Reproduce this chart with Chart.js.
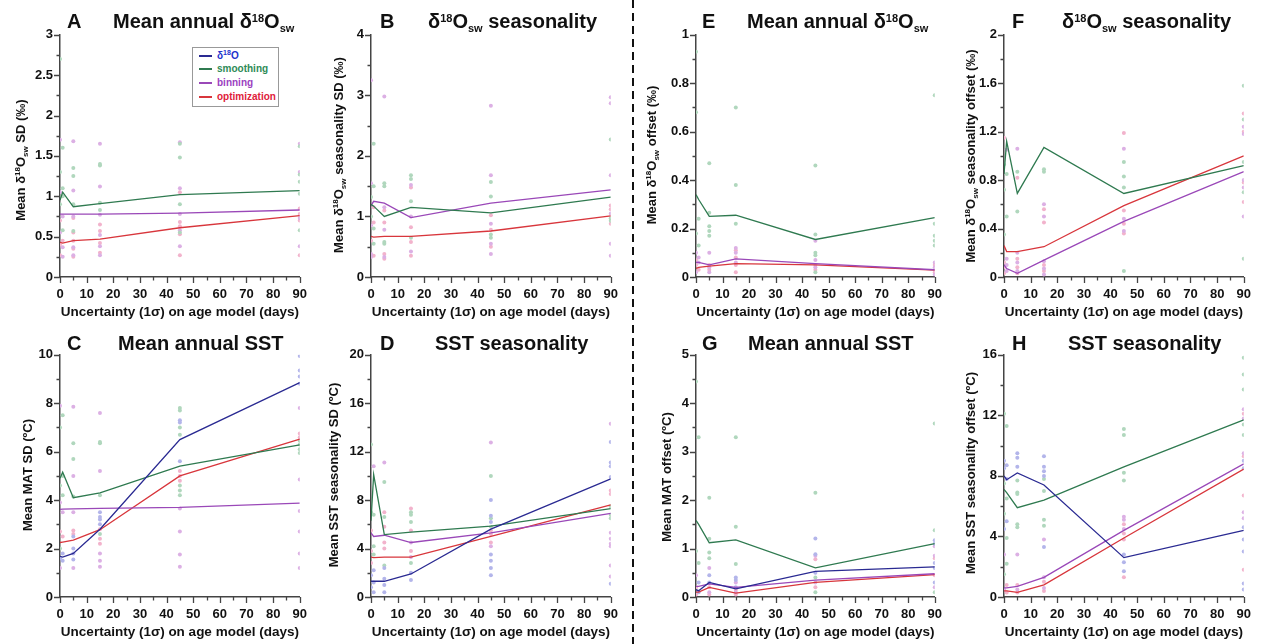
<!DOCTYPE html>
<html><head><meta charset="utf-8">
<script src="https://cdn.jsdelivr.net/npm/chart.js@4.4.1/dist/chart.umd.min.js"></script>
<style>
body{margin:0;width:1262px;height:644px;background:#fff;position:relative;overflow:hidden;font-family:'Liberation Sans',Arial,sans-serif;}
canvas{position:absolute;}
.ttl{position:absolute;font-weight:bold;font-size:20px;line-height:20px;white-space:nowrap;color:#111;}
.ttl sup{font-size:11px;line-height:0;vertical-align:6px;}
.ttl sub{font-size:11px;line-height:0;vertical-align:-4px;}
.yt{position:absolute;font-weight:bold;font-size:13px;line-height:14px;white-space:nowrap;transform:translate(-50%,-50%) rotate(-90deg);color:#111;}
.yt sup{font-size:8px;line-height:0;vertical-align:5px;}
.yt sub{font-size:8px;line-height:0;vertical-align:-3px;}
#sep{position:absolute;left:632px;top:0;width:2px;height:644px;background:repeating-linear-gradient(to bottom,#111 0 8px,transparent 8px 13px);}
#legend{position:absolute;left:192px;top:47px;width:85px;height:58px;border:1px solid #999;background:#fff;}
#legend .row{position:absolute;left:0;height:12px;font-size:10px;font-weight:bold;line-height:12px;white-space:nowrap;}
#legend .sw{position:absolute;left:6px;top:5px;width:13px;height:1.5px;}
#legend .tx{position:absolute;left:24px;top:0;}
#legend sup{font-size:7px;line-height:0;vertical-align:4px;}
</style>
</head><body>
<div id="sep"></div>
<script>
// ---------------- data ----------------
const xValues = [0, 1, 5, 15, 45, 90];
const methods = ['δ18O', 'smoothing', 'binning', 'optimization'];

// line series (means) per panel, at xValues
const lineA_smooth = [0.95, 1.05, 0.87, 0.91, 1.02, 1.07];
const lineA_bin    = [0.78, 0.78, 0.78, 0.78, 0.79, 0.83];
const lineA_opt    = [0.43, 0.42, 0.45, 0.47, 0.61, 0.76];

const lineB_smooth = [1.20, 1.17, 1.00, 1.15, 1.06, 1.32];
const lineB_bin    = [1.18, 1.25, 1.22, 0.98, 1.22, 1.44];
const lineB_opt    = [0.67, 0.66, 0.67, 0.67, 0.76, 1.01];

const lineE_smooth = [0.34, 0.32, 0.25, 0.255, 0.155, 0.245];
const lineE_bin    = [0.06, 0.06, 0.05, 0.075, 0.055, 0.03];
const lineE_opt    = [0.035, 0.04, 0.045, 0.055, 0.05, 0.028];

const lineF_smooth = [0.85, 1.12, 0.69, 1.07, 0.69, 0.92];
const lineF_bin    = [0.10, 0.07, 0.03, 0.14, 0.46, 0.87];
const lineF_opt    = [0.26, 0.21, 0.21, 0.25, 0.59, 1.00];

const lineC_d18O   = [1.68, 1.65, 1.80, 2.80, 6.50, 8.85];
const lineC_smooth = [4.90, 5.15, 4.10, 4.30, 5.40, 6.28];
const lineC_bin    = [3.62, 3.63, 3.64, 3.66, 3.70, 3.88];
const lineC_opt    = [2.25, 2.27, 2.35, 2.78, 5.00, 6.52];

const lineD_d18O   = [1.3, 1.3, 1.3, 1.9, 5.6, 9.75];
const lineD_smooth = [6.3, 10.1, 5.15, 5.35, 5.85, 7.3];
const lineD_bin    = [5.3, 5.0, 5.1, 4.5, 5.3, 6.9];
const lineD_opt    = [3.3, 3.25, 3.3, 3.3, 5.0, 7.6];

const lineG_d18O   = [0.15, 0.13, 0.30, 0.17, 0.53, 0.62];
const lineG_smooth = [1.58, 1.50, 1.12, 1.18, 0.60, 1.10];
const lineG_bin    = [0.22, 0.22, 0.27, 0.20, 0.35, 0.48];
const lineG_opt    = [0.10, 0.10, 0.20, 0.08, 0.30, 0.46];

const lineH_d18O   = [8.0, 7.75, 8.2, 7.4, 2.6, 4.4];
const lineH_smooth = [7.1, 6.9, 5.9, 6.4, 8.6, 11.7];
const lineH_bin    = [0.6, 0.6, 0.7, 1.3, 4.4, 8.8];
const lineH_opt    = [0.4, 0.4, 0.3, 0.8, 3.9, 8.45];

// individual records: [x, y, methodIndex]
const dotsA = [
 [0,2.7,1],[0,1.7,2],[1,1.6,1],[0,1.3,1],[1,1.1,1],[0,1.05,2],[1,1.0,1],[0,0.9,1],[1,0.75,2],[0,0.7,3],[1,0.58,1],[0,0.55,2],[1,0.45,3],[0,0.4,3],[1,0.37,2],[0,0.27,3],[1,0.25,2],
 [5,1.68,2],[5,1.35,1],[5,1.25,1],[5,1.07,2],[5,0.9,1],[5,0.75,2],[5,0.73,3],[5,0.57,1],[5,0.55,3],[5,0.45,3],[5,0.37,2],[5,0.35,3],[5,0.27,2],[5,0.25,3],
 [15,1.65,2],[15,1.4,1],[15,1.38,1],[15,1.12,2],[15,0.92,1],[15,0.83,1],[15,0.77,2],[15,0.65,3],[15,0.57,3],[15,0.52,2],[15,0.42,3],[15,0.38,2],[15,0.3,3],[15,0.27,2],
 [45,1.67,2],[45,1.65,1],[45,1.48,1],[45,1.1,2],[45,1.05,3],[45,0.9,1],[45,0.78,2],[45,0.68,3],[45,0.63,3],[45,0.58,2],[45,0.55,1],[45,0.53,3],[45,0.38,2],[45,0.27,3],
 [90,1.65,2],[90,1.62,1],[90,1.3,2],[90,1.27,1],[90,1.18,1],[90,1.03,1],[90,0.85,3],[90,0.78,3],[90,0.73,2],[90,0.7,3],[90,0.58,1],[90,0.38,2],[90,0.27,3]
];
const dotsB = [
 [0,3.25,2],[1,2.2,1],[0,1.55,2],[1,1.5,1],[0,1.32,1],[1,1.15,3],[0,1.0,1],[1,0.9,3],[0,0.85,2],[1,0.8,1],[0,0.6,3],[1,0.55,1],[0,0.38,2],[1,0.35,3],[0,0.33,2],
 [5,2.98,2],[5,1.55,1],[5,1.5,1],[5,1.15,2],[5,1.1,3],[5,0.9,3],[5,0.78,2],[5,0.58,1],[5,0.55,1],[5,0.38,3],[5,0.33,2],[5,0.3,3],
 [15,1.68,1],[15,1.62,1],[15,1.52,2],[15,1.48,3],[15,1.25,1],[15,1.0,2],[15,0.82,3],[15,0.65,1],[15,0.58,3],[15,0.42,2],[15,0.35,3],
 [45,2.83,2],[45,1.68,2],[45,1.57,1],[45,1.33,1],[45,1.02,3],[45,0.88,2],[45,0.78,3],[45,0.7,1],[45,0.65,1],[45,0.55,2],[45,0.5,3],[45,0.38,2],
 [90,2.97,2],[90,2.87,2],[90,2.27,1],[90,1.68,2],[90,1.18,3],[90,1.12,3],[90,1.05,2],[90,0.97,1],[90,0.93,1],[90,0.88,3],[90,0.55,2],[90,0.35,2]
];
const dotsE = [
 [0,0.93,1],[0,0.68,1],[1,0.24,1],[0,0.18,1],[1,0.13,1],[0,0.1,2],[1,0.08,2],[0,0.07,3],[1,0.06,2],[0,0.05,3],[1,0.03,3],[0,0.02,2],
 [5,0.47,1],[5,0.265,1],[5,0.21,1],[5,0.19,1],[5,0.17,1],[5,0.1,2],[5,0.05,3],[5,0.04,2],[5,0.03,3],[5,0.02,2],
 [15,0.7,1],[15,0.38,1],[15,0.22,1],[15,0.12,2],[15,0.11,3],[15,0.1,2],[15,0.08,3],[15,0.06,2],[15,0.05,3],[15,0.02,3],
 [45,0.46,1],[45,0.175,1],[45,0.15,2],[45,0.1,1],[45,0.09,1],[45,0.07,2],[45,0.05,3],[45,0.04,2],[45,0.03,3],[45,0.02,1],
 [90,0.75,1],[90,0.22,1],[90,0.17,1],[90,0.15,1],[90,0.13,1],[90,0.06,2],[90,0.05,3],[90,0.04,2],[90,0.02,3],[90,0.01,2]
];
const dotsF = [
 [0,1.15,3],[1,1.05,2],[0,0.93,1],[1,0.85,1],[0,0.72,1],[1,0.5,1],[0,0.35,1],[1,0.15,2],[0,0.12,3],[1,0.1,2],[0,0.08,3],[1,0.05,2],[0,0.03,3],
 [5,1.06,2],[5,0.87,1],[5,0.82,3],[5,0.54,1],[5,0.2,2],[5,0.15,3],[5,0.12,2],[5,0.08,3],[5,0.05,2],[5,0.03,3],
 [15,0.89,1],[15,0.87,1],[15,0.6,2],[15,0.56,3],[15,0.5,2],[15,0.45,3],[15,0.13,2],[15,0.1,3],[15,0.07,2],[15,0.05,3],[15,0.02,2],
 [45,1.19,3],[45,1.06,2],[45,0.95,1],[45,0.83,1],[45,0.74,1],[45,0.55,3],[45,0.48,2],[45,0.44,3],[45,0.38,2],[45,0.36,3],[45,0.05,1],
 [90,1.58,1],[90,1.35,3],[90,1.3,1],[90,1.24,2],[90,1.2,3],[90,1.18,2],[90,0.95,1],[90,0.8,2],[90,0.78,3],[90,0.74,2],[90,0.7,1],[90,0.62,3],[90,0.5,2],[90,0.15,1]
];
const dotsC = [
 [0,7.9,2],[1,7.5,1],[0,7.0,1],[1,5.0,1],[0,4.6,1],[1,4.2,1],[0,3.9,2],[1,3.5,2],[0,2.7,3],[1,2.5,3],[0,2.0,1],[1,1.8,0],[0,1.6,0],[1,1.5,0],[0,1.2,2],
 [5,7.85,2],[5,6.35,1],[5,5.7,1],[5,5.0,2],[5,4.15,1],[5,3.5,2],[5,2.75,3],[5,2.6,3],[5,2.5,0],[5,2.0,0],[5,1.8,0],[5,1.55,0],[5,1.2,2],
 [15,7.6,2],[15,6.4,1],[15,6.35,1],[15,5.2,2],[15,4.2,1],[15,3.5,0],[15,3.3,0],[15,3.2,0],[15,3.0,0],[15,2.8,3],[15,2.6,1],[15,2.4,3],[15,2.2,3],[15,1.8,2],[15,1.5,2],[15,1.25,2],
 [45,7.8,1],[45,7.7,1],[45,7.3,0],[45,7.2,0],[45,7.0,1],[45,6.7,1],[45,5.6,0],[45,5.2,3],[45,5.0,3],[45,4.8,3],[45,4.6,1],[45,4.4,1],[45,4.2,1],[45,3.65,2],[45,2.7,2],[45,1.75,2],[45,1.25,2],
 [90,9.95,0],[90,9.35,0],[90,9.1,0],[90,8.8,0],[90,7.8,2],[90,6.75,3],[90,6.6,3],[90,6.45,1],[90,6.3,1],[90,6.1,1],[90,5.95,1],[90,4.85,2],[90,3.55,2],[90,2.7,2],[90,1.8,2],[90,1.2,2]
];
const dotsD = [
 [0,12.6,1],[1,10.8,2],[0,7.0,1],[1,6.8,1],[0,5.5,3],[1,4.2,1],[0,3.8,3],[1,3.5,1],[0,2.8,3],[1,2.2,0],[0,1.8,0],[1,1.2,0],[0,0.8,0],[1,0.4,0],
 [5,11.1,2],[5,9.5,1],[5,7.0,3],[5,6.6,1],[5,5.8,3],[5,4.5,3],[5,4.0,3],[5,2.6,1],[5,2.4,0],[5,1.5,0],[5,1.0,0],[5,0.4,0],
 [15,7.3,3],[15,7.0,1],[15,6.8,1],[15,6.2,1],[15,5.5,3],[15,4.5,2],[15,3.8,3],[15,3.3,2],[15,2.8,1],[15,2.0,0],[15,1.4,0],
 [45,12.75,2],[45,10.0,1],[45,8.0,0],[45,6.7,0],[45,6.5,1],[45,6.2,0],[45,5.8,1],[45,5.5,3],[45,5.2,3],[45,4.5,3],[45,4.2,2],[45,3.5,0],[45,3.0,0],[45,2.4,0],[45,1.8,0],
 [90,14.3,2],[90,12.8,0],[90,11.1,0],[90,10.8,0],[90,9.9,0],[90,8.8,3],[90,8.5,3],[90,7.5,1],[90,6.8,1],[90,6.5,1],[90,5.3,2],[90,4.8,2],[90,4.4,2],[90,4.2,2],[90,2.6,2],[90,1.7,2],[90,1.1,0]
];
const dotsG = [
 [0,4.45,1],[1,3.3,1],[0,0.95,1],[1,0.7,1],[0,0.45,2],[1,0.3,0],[0,0.2,3],[1,0.1,0],[0,0.05,3],
 [5,2.05,1],[5,1.2,1],[5,0.92,1],[5,0.8,1],[5,0.6,2],[5,0.45,0],[5,0.3,0],[5,0.2,3],[5,0.1,2],[5,0.05,3],
 [15,3.3,1],[15,1.45,1],[15,0.68,1],[15,0.4,0],[15,0.35,0],[15,0.3,2],[15,0.2,0],[15,0.15,3],[15,0.1,2],[15,0.05,3],
 [45,2.15,1],[45,1.21,0],[45,0.88,0],[45,0.85,2],[45,0.78,3],[45,0.5,0],[45,0.4,1],[45,0.3,2],[45,0.2,3],[45,0.1,1],
 [90,3.58,1],[90,1.38,1],[90,1.17,0],[90,1.1,0],[90,1.05,2],[90,0.85,2],[90,0.8,3],[90,0.7,0],[90,0.6,0],[90,0.45,3],[90,0.3,0],[90,0.2,2],[90,0.1,1]
];
const dotsH = [
 [0,12.1,1],[1,11.3,1],[0,9.0,0],[1,8.7,0],[0,8.5,0],[1,7.8,0],[0,7.5,1],[1,6.5,1],[0,5.5,1],[1,5.0,0],[0,4.5,0],[1,3.9,1],[0,2.8,2],[1,2.2,1],[0,1.5,1],[1,0.8,3],[0,0.5,2],[1,0.3,3],
 [5,9.5,0],[5,9.2,0],[5,8.6,0],[5,7.7,1],[5,6.9,1],[5,6.8,1],[5,4.8,1],[5,4.6,1],[5,2.8,2],[5,0.8,3],[5,0.5,2],[5,0.3,3],
 [15,9.3,0],[15,8.6,0],[15,8.3,0],[15,8.0,0],[15,7.8,1],[15,7.0,1],[15,5.1,1],[15,4.7,1],[15,3.8,2],[15,3.3,0],[15,1.3,2],[15,1.0,3],[15,0.6,2],[15,0.4,3],
 [45,11.1,1],[45,10.7,1],[45,8.2,1],[45,7.7,1],[45,5.3,2],[45,5.1,2],[45,4.8,3],[45,4.5,2],[45,4.2,3],[45,3.8,3],[45,2.8,0],[45,2.3,0],[45,1.7,0],[45,1.3,3],
 [90,15.8,1],[90,14.7,1],[90,13.7,1],[90,12.4,2],[90,12.1,3],[90,11.8,2],[90,11.4,1],[90,10.7,1],[90,9.5,2],[90,9.3,3],[90,9.0,0],[90,8.5,0],[90,6.7,3],[90,5.6,2],[90,5.2,2],[90,4.6,0],[90,3.8,0],[90,3.0,0],[90,1.8,3],[90,0.9,0],[90,0.5,0]
];

// ---------------- styles ----------------
const lineColors = ['#2a2a92', '#2f7a50', '#9a48b8', '#d8363c'];
const dotColors  = ['#b3b5ea', '#b0d7bd', '#dcb0e4', '#f2b3cc'];
const AXIS = '#444';
const FONT = "'Liberation Sans', Arial, sans-serif";

const panels = [
  {pl:60,  pr:305,  pt:32,  pb:277, ymax:3, major:0.5, minor:0.25, dots:dotsA, lines:[[1,lineA_smooth],[2,lineA_bin],[3,lineA_opt]]},
  {pl:371, pr:616,  pt:32,  pb:277, ymax:4, major:1,   minor:0.5,  dots:dotsB, lines:[[1,lineB_smooth],[2,lineB_bin],[3,lineB_opt]]},
  {pl:696, pr:940,  pt:32,  pb:277, ymax:1, major:0.2, minor:0.1,  dots:dotsE, lines:[[1,lineE_smooth],[2,lineE_bin],[3,lineE_opt]]},
  {pl:1004,pr:1249, pt:32,  pb:277, ymax:2, major:0.4, minor:0.2,  dots:dotsF, lines:[[1,lineF_smooth],[2,lineF_bin],[3,lineF_opt]]},
  {pl:60,  pr:305,  pt:352, pb:597, ymax:10,major:2,   minor:1,    dots:dotsC, lines:[[0,lineC_d18O],[1,lineC_smooth],[2,lineC_bin],[3,lineC_opt]]},
  {pl:371, pr:616,  pt:352, pb:597, ymax:20,major:4,   minor:2,    dots:dotsD, lines:[[0,lineD_d18O],[1,lineD_smooth],[2,lineD_bin],[3,lineD_opt]]},
  {pl:696, pr:940,  pt:352, pb:597, ymax:5, major:1,   minor:0.5,  dots:dotsG, lines:[[0,lineG_d18O],[1,lineG_smooth],[2,lineG_bin],[3,lineG_opt]]},
  {pl:1004,pr:1249, pt:352, pb:597, ymax:16,major:4,   minor:2,    dots:dotsH, lines:[[0,lineH_d18O],[1,lineH_smooth],[2,lineH_bin],[3,lineH_opt]]}
];

const isMajor = (v, m) => Math.abs(v / m - Math.round(v / m)) < 1e-6;
const fmt = v => String(+v.toFixed(2));

const tickMarks = {
  id: 'tickMarks',
  afterDraw(chart, args, opts) {
    const ctx = chart.ctx, xs = chart.scales.x, ys = chart.scales.y;
    ctx.save();
    ctx.strokeStyle = AXIS; ctx.lineWidth = 1.3;
    ctx.beginPath();
    xs.ticks.forEach(t => {
      const p = Math.round(xs.getPixelForValue(t.value)) + 0.5;
      const L = isMajor(t.value, 10) ? 6 : 3.5;
      ctx.moveTo(p, xs.top); ctx.lineTo(p, xs.top + L);
    });
    ys.ticks.forEach(t => {
      const p = Math.round(ys.getPixelForValue(t.value)) + 0.5;
      const L = isMajor(t.value, opts.major) ? 6 : 3.5;
      ctx.moveTo(ys.right, p); ctx.lineTo(ys.right - L, p);
    });
    ctx.stroke();
    ctx.restore();
  }
};

Chart.defaults.font.family = FONT;
Chart.defaults.font.weight = 'bold';
Chart.defaults.font.size = 13;
Chart.defaults.color = '#111';

panels.forEach(p => {
  const c = document.createElement('canvas');
  const W = p.pr - p.pl + 67, H = p.pb - p.pt + 57;
  c.width = W; c.height = H;
  c.style.left = (p.pl - 55) + 'px'; c.style.top = (p.pt - 12) + 'px';
  c.style.width = W + 'px'; c.style.height = H + 'px';
  document.body.appendChild(c);

  const datasets = [];
  p.lines.forEach(([m, arr]) => {
    datasets.push({
      label: methods[m], showLine: true, borderColor: lineColors[m], backgroundColor: lineColors[m],
      borderWidth: 1.3, pointRadius: 0, tension: 0,
      data: xValues.map((x, i) => ({x, y: arr[i]}))
    });
  });
  [0, 1, 2, 3].forEach(m => {
    const pts = p.dots.filter(d => d[2] === m).map(d => ({x: d[0], y: d[1]}));
    if (!pts.length) return;
    datasets.push({
      label: methods[m] + ' runs', showLine: false, data: pts,
      pointRadius: 2, pointBorderWidth: 0, backgroundColor: dotColors[m], borderColor: dotColors[m]
    });
  });

  new Chart(c, {
    type: 'scatter',
    data: {datasets},
    options: {
      responsive: false, animation: false, devicePixelRatio: 1,
      layout: {padding: {top: 12, right: 12, left: 0, bottom: 0}},
      plugins: {legend: {display: false}, tooltip: {enabled: false}, tickMarks: {major: p.major}},
      scales: {
        x: {
          type: 'linear', min: 0, max: 90,
          afterFit: s => { s.height = 45; },
          border: {display: true, color: AXIS, width: 1.5},
          grid: {display: false, drawTicks: false},
          ticks: {stepSize: 5, autoSkip: false, maxRotation: 0, padding: 10,
                  callback: v => isMajor(v, 10) ? String(v) : ''},
          title: {display: true, text: 'Uncertainty (1σ) on age model (days)',
                  font: {size: 13.5, weight: 'bold'}, color: '#111', padding: {top: 0, bottom: 2}}
        },
        y: {
          type: 'linear', min: 0, max: p.ymax,
          afterFit: s => { s.width = 55; },
          border: {display: true, color: AXIS, width: 1.5},
          grid: {display: false, drawTicks: false},
          ticks: {stepSize: p.minor, autoSkip: false, padding: 7,
                  callback: v => isMajor(v, p.major) ? fmt(v) : ''}
        }
      }
    },
    plugins: [tickMarks]
  });
});

// ---------------- text overlays ----------------
const D18 = 'δ<sup>18</sup>O<sub>sw</sub>';
const titles = [
  ['A', 67, 113, 11, 'Mean annual ' + D18],
  ['B', 380, 428, 11, D18 + ' seasonality'],
  ['E', 702, 747, 11, 'Mean annual ' + D18],
  ['F', 1012, 1062, 11, D18 + ' seasonality'],
  ['C', 67, 118, 333, 'Mean annual SST'],
  ['D', 380, 435, 333, 'SST seasonality'],
  ['G', 702, 748, 333, 'Mean annual SST'],
  ['H', 1012, 1068, 333, 'SST seasonality']
];
titles.forEach(([L, xl, xt, top, txt]) => {
  const a = document.createElement('div'); a.className = 'ttl';
  a.style.left = xl + 'px'; a.style.top = top + 'px'; a.textContent = L;
  document.body.appendChild(a);
  const b = document.createElement('div'); b.className = 'ttl';
  b.style.left = xt + 'px'; b.style.top = top + 'px'; b.innerHTML = txt;
  document.body.appendChild(b);
});
const yTitles = [
  [21, 160, 'Mean ' + D18 + ' SD (‰)'],
  [339, 155, 'Mean ' + D18 + ' seasonality SD (‰)'],
  [652, 155, 'Mean ' + D18 + ' offset (‰)'],
  [971, 156, 'Mean ' + D18 + ' seasonality offset (‰)'],
  [28, 475, 'Mean MAT SD (ºC)'],
  [334, 475, 'Mean SST seasonality SD (ºC)'],
  [667, 477, 'Mean MAT offset (ºC)'],
  [971, 473, 'Mean SST seasonality offset (ºC)']
];
yTitles.forEach(([x, y, txt]) => {
  const d = document.createElement('div'); d.className = 'yt';
  d.style.left = x + 'px'; d.style.top = y + 'px'; d.innerHTML = txt;
  document.body.appendChild(d);
});

// legend
const legendText = ['δ<sup>18</sup>O', 'smoothing', 'binning', 'optimization'];
const legendTextColors = ['#2233cc', '#2e8b57', '#9b3fbf', '#e0203a'];
const lg = document.createElement('div'); lg.id = 'legend';
[2, 15, 29, 43].forEach((top, i) => {
  const r = document.createElement('div'); r.className = 'row'; r.style.top = top + 'px';
  r.innerHTML = '<span class="sw" style="background:' + lineColors[i] + '"></span><span class="tx" style="color:' + legendTextColors[i] + '">' + legendText[i] + '</span>';
  lg.appendChild(r);
});
document.body.appendChild(lg);
</script>
</body></html>
